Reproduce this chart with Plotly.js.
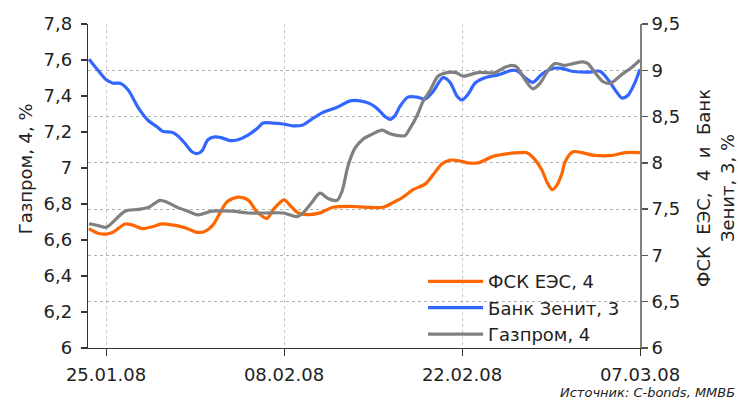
<!DOCTYPE html>
<html>
<head>
<meta charset="utf-8">
<script src="https://cdn.plot.ly/plotly-3.0.1.min.js"></script>
<style>html,body{margin:0;padding:0;background:#fff;}#chart{width:738px;height:401px;}</style>
</head>
<body>
<div id="chart"></div>
<script>
// Days counted from 25.01.08 (fractional days)
const fskDays = [-1.34,-0.63,0,0.55,1.49,2.04,2.91,3.62,4.40,5.19,6.21,7.16,7.79,8.42,8.97,9.52,10.38,11.17,11.88,12.66,13.13,13.45,14.0,14.55,15.10,15.81,16.83,17.86,19.19,20.53,21.79,22.57,23.36,24.15,25.09,25.72,26.43,27.06,27.84,28.47,29.26,30.44,31.62,32.56,33.11,33.58,34.29,34.69,35.08,35.47,35.87,36.10,36.73,37.44,38.46,39.80,40.82,42.0];
const fskValues = [7.29,7.24,7.23,7.25,7.34,7.33,7.29,7.31,7.34,7.33,7.30,7.25,7.26,7.33,7.46,7.58,7.63,7.60,7.47,7.40,7.49,7.54,7.60,7.53,7.46,7.44,7.46,7.52,7.53,7.52,7.52,7.57,7.63,7.71,7.77,7.87,7.99,8.03,8.02,8.00,8.00,8.07,8.10,8.11,8.11,8.06,7.92,7.79,7.71,7.76,7.89,8.01,8.12,8.11,8.08,8.08,8.11,8.11];

const zenitDays = [-1.34,-0.63,0,0.55,1.10,1.73,2.52,3.30,4.01,4.48,5.19,5.66,6.21,6.76,7.16,7.55,8.02,8.57,9.12,9.75,10.38,11.17,11.96,12.35,13.13,13.92,14.71,15.49,16.28,16.99,18.17,19.19,19.98,20.76,21.39,21.94,22.34,22.73,23.12,23.75,24.46,25.09,25.72,26.51,27.06,27.61,28.00,28.47,29.02,29.81,30.83,31.93,32.40,32.96,33.58,34.29,35.08,35.87,36.65,37.91,38.85,39.48,40.03,40.58,41.06,41.61,42.0];
const zenitValues = [9.12,9.00,8.90,8.86,8.86,8.79,8.60,8.46,8.39,8.34,8.33,8.29,8.21,8.12,8.10,8.13,8.25,8.28,8.27,8.24,8.25,8.30,8.38,8.43,8.43,8.42,8.40,8.41,8.48,8.54,8.60,8.67,8.67,8.64,8.58,8.50,8.47,8.51,8.61,8.71,8.71,8.69,8.77,8.92,8.87,8.72,8.68,8.74,8.86,8.92,8.95,9.00,8.99,8.92,8.87,8.96,9.02,9.02,8.99,8.98,8.99,8.90,8.79,8.70,8.73,8.87,9.01];

const gazpromDays = [-1.34,-0.63,0,0.55,1.49,2.52,3.30,4.25,4.80,5.66,6.45,7.24,8.34,9.91,11.17,12.51,13.92,15.02,15.49,16.20,16.83,17.46,18.17,18.56,19.03,19.58,20.21,21.00,21.71,22.34,22.97,23.52,23.91,24.46,24.93,25.48,26.11,26.82,27.52,28.08,29.26,30.59,31.38,31.93,32.33,32.96,33.58,34.13,34.76,35.31,36.10,36.73,37.52,37.91,38.46,39.09,39.64,40.58,41.37,42.0];
const gazpromValues = [6.69,6.68,6.67,6.70,6.76,6.77,6.78,6.82,6.81,6.78,6.76,6.74,6.76,6.76,6.75,6.75,6.75,6.73,6.75,6.81,6.86,6.83,6.82,6.87,7.01,7.11,7.16,7.19,7.21,7.19,7.18,7.18,7.22,7.29,7.37,7.43,7.51,7.53,7.53,7.51,7.53,7.53,7.56,7.57,7.56,7.49,7.44,7.47,7.54,7.58,7.57,7.58,7.59,7.58,7.53,7.48,7.47,7.52,7.56,7.60];

const seriesNames = ['ФСК ЕЭС, 4', 'Банк Зенит, 3', 'Газпром, 4'];
const tickDays = [0, 14, 28, 42];
const tickLabels = ['25.01.08', '08.02.08', '22.02.08', '07.03.08'];
const leftTitle = 'Газпром, 4, %';
const rightTitle = 'ФСК&nbsp; ЕЭС,&nbsp; 4&nbsp; и&nbsp; Банк<br>Зенит, 3, %';
const sourceText = 'Источник: C-bonds, ММВБ';

const base = Date.UTC(2008, 0, 25);
const toMs = d => base + d * 86400000;

const FONT = 'DejaVu Sans, Verdana, sans-serif';

const traces = [
  {x: fskDays.map(toMs), y: fskValues, name: seriesNames[0], yaxis: 'y', type: 'scatter', mode: 'lines',
   line: {color: '#FF6600', width: 3.2, shape: 'spline', smoothing: 0.8}},
  {x: zenitDays.map(toMs), y: zenitValues, name: seriesNames[1], yaxis: 'y', type: 'scatter', mode: 'lines',
   line: {color: '#3366FF', width: 3.2, shape: 'spline', smoothing: 0.8}},
  {x: gazpromDays.map(toMs), y: gazpromValues, name: seriesNames[2], yaxis: 'y2', type: 'scatter', mode: 'lines',
   line: {color: '#808080', width: 3.2, shape: 'spline', smoothing: 0.8}}
];

const layout = {
  width: 738, height: 401,
  margin: {l: 88, r: 98, t: 24, b: 53, pad: 0},
  paper_bgcolor: '#fff', plot_bgcolor: '#fff',
  separators: ', ',
  font: {family: FONT, size: 18, color: '#222'},
  showlegend: true,
  legend: {x: 0.607, y: 0.262, xanchor: 'left', yanchor: 'top', bgcolor: 'rgba(0,0,0,0)',
           font: {family: FONT, size: 18, color: '#222'}, tracegroupgap: 0, itemwidth: 55},
  xaxis: {
    type: 'date', range: [toMs(-1.416), toMs(42)],
    tickvals: tickDays.map(toMs), ticktext: tickLabels,
    ticks: 'outside', ticklen: 7, tickcolor: '#333', tickwidth: 1, ticklabelstandoff: 3,
    showline: true, linecolor: '#333', linewidth: 1.3,
    showgrid: true, gridcolor: '#c8c8c8', griddash: 'dot', gridwidth: 1,
    tickfont: {family: FONT, size: 18, color: '#222'}, zeroline: false, fixedrange: true
  },
  yaxis: {
    side: 'right', range: [6, 9.5], dtick: 0.5, tick0: 6,
    ticks: 'outside', ticklen: 6, tickcolor: '#555', tickwidth: 1.3,
    showline: true, linecolor: '#808080', linewidth: 2,
    showgrid: true, gridcolor: '#b0b0b0', griddash: 'dot', gridwidth: 1,
    tickfont: {family: FONT, size: 18, color: '#222'}, zeroline: false
  },
  yaxis2: {
    side: 'left', overlaying: 'y', range: [6, 7.8], dtick: 0.2, tick0: 6,
    ticks: 'outside', ticklen: 6, tickcolor: '#333', tickwidth: 1.3, ticklabelstandoff: 5,
    showline: true, linecolor: '#333', linewidth: 1.3,
    showgrid: false, zeroline: false,
    tickfont: {family: FONT, size: 18, color: '#222'}
  },
  annotations: [
    {text: leftTitle, xref: 'paper', yref: 'paper', x: -0.114, y: 0.552, textangle: -90,
     showarrow: false, xanchor: 'center', yanchor: 'middle', font: {family: FONT, size: 18, color: '#222'}},
    {text: rightTitle, xref: 'paper', yref: 'paper', x: 1.136, y: 0.494, textangle: -90,
     showarrow: false, xanchor: 'center', yanchor: 'middle', align: 'center', font: {family: FONT, size: 18, color: '#222'}},
    {text: sourceText, xref: 'paper', yref: 'paper', x: 1.176, y: -0.136, xanchor: 'right', yanchor: 'middle',
     showarrow: false, font: {family: FONT, size: 13, color: '#222', style: 'italic'}}
  ]
};

Plotly.newPlot('chart', traces, layout, {displayModeBar: false, staticPlot: true});
</script>
</body>
</html>
